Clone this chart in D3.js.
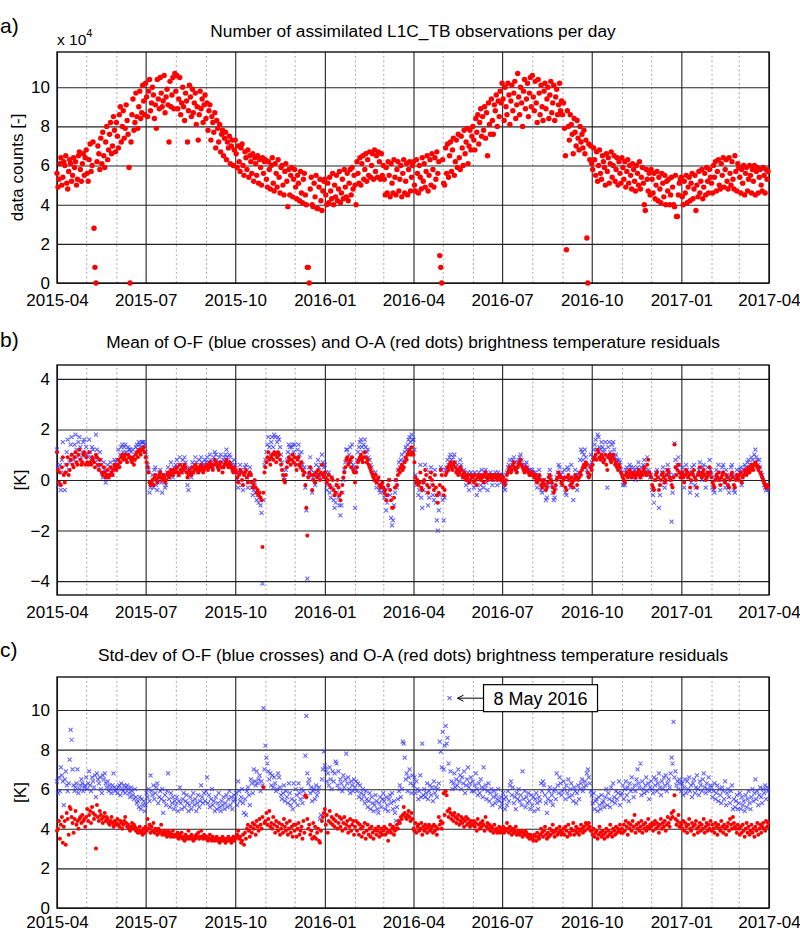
<!DOCTYPE html>
<html><head><meta charset="utf-8">
<script src="https://cdn.jsdelivr.net/npm/d3@7"></script>
<style>
body{margin:0;background:#fff;}
text{font-family:"Liberation Sans",Arial,Helvetica,sans-serif;fill:#000;}
</style></head><body>
<svg id="chart" width="800" height="933"></svg>
<script>
// ---------------- DATA ----------------
const startMonth = "2015-04";
const endMonth = "2017-04";
const quarterLabels = ["2015-04","2015-07","2015-10","2016-01","2016-04","2016-07","2016-10","2017-01","2017-04"];
const countTicks = [0,2,4,6,8,10];
const meanTicks = [-4,-2,0,2,4];
const stdTicks = [0,2,4,6,8,10];
const titles = [
  "Number of assimilated L1C_TB observations per day",
  "Mean of O-F (blue crosses) and O-A (red dots) brightness temperature residuals",
  "Std-dev of O-F (blue crosses) and O-A (red dots) brightness temperature residuals"
];
const panelLetters = ["a)","b)","c)"];
const yLabels = ["data counts [-]","[K]","[K]"];
const annotation = {date:"2016-05-08", value:10.6, label:"8 May 2016"};

// daily values, one inner array per month starting 2015-04 (units: x 10^4)
const countsPerDay = [
[5.6,4.9,5.3,6.1,6.4,5.0,5.4,6.2,6.0,6.5,5.1,4.8,5.7,6.3,6.1,5.2,5.5,6.4,5.9,6.2,5.0,5.3,6.5,6.7,5.8,5.2,6.1,6.6,5.5,6.4],
[6.8,5.6,5.2,6.3,7.1,5.7,6.0,7.2,2.8,0.8,0,6.2,7.0,6.6,5.8,7.4,6.1,7.7,6.5,5.9,7.2,8.0,6.3,6.8,7.6,8.2,6.6,7.0,8.5,7.8,6.7],
[8.2,7.5,6.9,8.6,9.0,7.2,8.0,8.8,7.4,7.9,9.1,8.3,7.6,5.9,0,7.2,8.6,9.4,7.8,8.2,9.7,8.5,7.9,9.0,9.8,8.4,8.7,10.1,9.3,8.6],
[10.2,9.5,8.5,9.8,10.4,8.8,9.2,10.0,9.6,8.4,9.1,7.9,10.4,9.4,8.9,10.5,9.7,9.0,9.3,10.6,8.7,9.5,9.9,9.1,7.2,10.3,9.0,9.6,10.5,8.9,10.7],
[9.8,10.6,8.9,9.4,10.5,8.6,9.2,10.0,9.0,8.3,9.7,9.3,7.2,8.8,10.1,9.5,8.5,9.9,8.7,9.2,9.7,8.1,9.0,7.3,8.6,9.8,8.9,9.4,8.2,9.1,9.6],
[8.4,9.2,7.8,8.8,9.1,7.3,8.5,8.2,7.7,8.7,6.9,8.3,7.9,7.2,8.1,6.7,7.6,7.8,6.5,7.4,7.7,6.3,7.2,6.9,7.5,6.1,7.0,7.3,6.0,6.8],
[7.3,6.6,5.9,7.0,6.2,5.7,6.9,7.1,6.0,5.5,6.7,6.4,5.8,6.8,5.4,6.5,6.2,5.6,6.6,5.2,6.4,6.1,5.5,6.5,5.1,6.3,5.9,5.0,6.4,5.6,6.2],
[6.3,5.3,4.9,6.2,5.8,4.8,6.0,6.4,5.1,4.7,6.1,5.6,4.9,6.3,5.4,4.6,5.9,6.0,5.0,4.5,5.7,6.1,5.2,3.9,5.8,4.5,5.5,5.9,4.4,5.3],
[5.8,4.9,4.3,5.5,5.1,4.2,5.7,4.6,4.1,5.3,5.6,4.5,4.0,0.8,0.8,0,4.8,5.4,4.0,3.9,5.1,4.4,5.5,3.8,3.8,4.9,5.3,4.2,3.7,4.7,5.2],
[5.3,4.5,4.0,5.1,4.1,5.4,4.7,4.3,5.6,4.0,5.0,4.4,5.5,4.2,4.8,5.7,4.1,4.6,5.3,4.3,5.8,4.9,4.4,5.6,4.2,5.1,5.8,4.5,5.9,4.8,5.5],
[5.0,4.0,6.2,5.6,5.1,6.4,5.0,6.1,6.5,5.3,5.8,6.6,5.2,6.3,5.5,6.7,5.4,6.0,6.6,5.3,6.8,5.7,6.5,5.4,6.7,6.2,5.3,6.6,5.5],
[6.0,5.3,4.5,5.9,4.6,6.2,5.5,4.4,6.1,5.1,4.6,6.3,5.4,4.5,5.8,6.2,4.7,5.3,6.0,4.4,5.6,6.3,4.6,5.2,6.1,4.5,5.8,6.2,4.7,5.4,6.0],
[6.2,5.0,4.7,6.3,5.6,4.6,6.0,5.4,4.8,6.4,5.2,6.1,4.9,5.7,6.5,4.7,5.5,6.3,5.0,6.6,5.8,4.9,6.4,5.3,6.7,5.6,6.2,1.4,0.8,0],
[6.3,5.1,5.0,6.9,5.6,7.1,5.4,6.5,7.2,5.7,6.8,7.4,5.5,6.2,7.3,5.9,7.6,6.4,5.8,7.5,6.9,6.0,7.8,6.6,7.2,7.9,6.1,7.0,7.8,6.8,7.5],
[8.0,7.3,6.8,8.4,7.7,8.6,7.1,8.2,8.9,7.5,8.5,7.8,9.0,7.4,8.7,6.5,9.2,8.1,7.6,9.4,8.3,7.6,9.1,8.8,9.6,8.0,9.3,8.5,9.8,9.2],
[10.2,9.4,8.3,10.0,9.0,8.6,10.2,9.6,8.1,9.3,10.1,8.8,9.7,10.3,8.4,9.1,10.7,9.5,8.6,10.0,9.2,8.0,9.8,10.4,8.9,9.4,10.2,8.5,9.7,10.5,9.0],
[10.6,9.5,8.8,10.3,9.2,8.2,10.4,9.7,8.6,10.1,9.0,8.3,9.8,10.2,8.9,9.4,10.0,8.4,9.6,10.3,8.7,9.2,10.1,8.3,9.5,9.9,8.6,9.1,10.2,8.8,9.3],
[8.6,9.2,7.9,6.5,1.7,8.8,8.0,7.3,8.6,8.1,7.6,6.6,8.4,7.7,7.0,8.3,7.4,6.8,8.0,7.2,7.6,6.9,7.8,6.6,7.3,2.3,0,7.1,6.3,7.0],
[6.1,5.8,6.9,6.3,5.5,6.7,5.2,6.0,6.8,5.6,5.3,6.5,6.2,5.9,5.0,6.6,5.7,6.4,5.1,6.1,6.7,5.4,6.0,6.5,5.2,5.8,6.4,5.0,6.2,5.6,5.1],
[6.4,5.9,5.3,6.2,4.9,5.7,6.3,5.1,6.0,5.5,4.8,6.1,5.8,5.2,4.7,6.0,5.6,5.0,6.2,4.8,5.4,5.9,5.1,4.0,3.7,5.8,5.3,4.7,5.6,4.5],
[5.8,5.3,4.6,5.6,4.3,5.0,5.7,4.2,5.4,4.8,4.1,5.6,5.1,4.4,5.5,4.0,5.2,4.7,5.3,4.0,4.5,5.4,4.9,4.0,3.9,5.5,3.4,3.4,4.5,5.1,5.3],
[5.4,4.4,4.0,5.2,4.6,5.5,4.1,4.9,5.4,4.2,5.1,5.6,4.3,4.8,5.5,3.7,5.0,4.4,5.7,4.6,5.2,5.8,4.3,4.9,5.6,4.5,5.9,5.2,4.6,5.8,5.4],
[5.1,4.6,6.0,5.4,6.2,4.7,5.7,6.3,5.0,4.8,6.1,5.5,6.4,4.9,5.8,6.3,5.2,4.8,6.4,5.6,5.0,6.2,5.3,4.8,6.5,5.7,4.7,6.1],
[5.9,5.4,4.6,5.8,5.1,6.0,4.5,5.6,5.9,4.7,5.3,6.0,5.5,4.6,5.8,5.2,6.0,4.5,5.7,5.9,4.6,5.4,5.8,5.0,4.7,5.9,5.5,4.6,5.8,5.3,5.7]
];

// mean O-F (blue crosses), K
const meanOF = [
[1.2,0.5,-0.2,0.6,-0.4,0.8,1.5,0.3,-0.4,0.6,1.1,1.6,0.4,0.7,1.4,1.7,1.0,0.8,1.4,1.8,1.2,0.9,1.5,1.7,1.3,0.9,1.1,1.5,1.6,1.0],
[1.3,1.0,0.9,1.6,1.1,0.8,1.3,1.2,0.9,0.7,1.8,1.2,0.8,0.5,1.1,0.8,0.3,0.1,0.7,0.4,-0.1,0.2,0.6,0.1,0.2,0.7,0.4,0.2,0.5,0.8,0.7],
[0.5,0.8,1.2,0.6,1.0,1.3,1.4,1.1,1.3,1.4,1.1,1.0,1.3,1.2,1.2,1.1,0.9,1.2,0.8,1.0,1.3,1.4,1.2,1.5,1.4,1.3,1.5,1.5,1.5,1.4],
[1.1,0.9,0.6,0.4,-0.5,-0.3,-0.1,0.2,-0.3,0.4,0.5,-0.2,-0.4,0.0,0.3,0.4,-0.1,-0.5,0.2,0.0,-0.3,-0.2,0.3,0.5,0.1,0.2,0.7,0.4,0.1,0.5,0.4],
[0.6,0.8,0.5,0.2,0.9,0.6,0.3,0.8,0.6,0.9,0.7,0.4,-0.2,-0.4,0.5,0.4,0.1,0.7,0.3,0.6,0.9,0.7,0.5,0.3,0.8,0.6,0.9,0.7,0.4,0.6,0.8],
[0.7,0.9,0.6,0.7,1.0,0.8,0.7,0.5,0.9,1.1,1.0,0.8,0.7,0.6,0.9,1.0,0.7,0.5,0.8,0.9,1.0,1.2,0.9,0.7,1.0,0.9,0.7,0.6,0.4,0.8],
[0.6,0.4,0.0,-0.3,0.3,0.6,0.4,-0.2,-0.4,0.3,0.5,0.6,0.1,-0.3,0.3,0.5,0.2,-0.3,-0.6,-0.4,-0.1,-0.5,-0.8,-0.6,-0.9,-0.7,-1.0,-1.3,-4.1,-0.8,0.6],
[0.8,1.1,1.4,1.7,1.3,1.0,1.5,1.7,1.3,1.8,1.7,1.1,1.5,1.7,1.6,1.3,1.0,0.7,0.4,0.1,0.0,0.4,0.8,1.1,1.4,1.3,1.0,1.3,1.4,1.1],
[1.4,0.9,0.6,1.2,1.4,1.0,0.7,1.1,0.6,0.4,0.5,-0.3,-1.2,-3.9,0.2,0.5,0.9,0.4,-0.5,0.1,0.3,-0.2,0.6,0.2,0.8,0.5,0.1,0.6,1.0,0.7,0.5],
[0.6,0.3,-0.4,-0.2,0.3,-0.5,-0.7,0.1,-0.3,-0.8,-1.1,-0.9,-0.5,-0.2,-0.7,-1.0,-1.4,-1.0,-0.5,0.0,0.4,0.7,1.2,1.2,0.8,1.0,1.3,0.7,1.4,0.6,0.5],
[-1.1,0.4,0.8,1.1,1.3,1.5,1.6,1.3,1.1,1.4,1.6,1.3,1.1,1.2,0.9,0.8,0.6,0.5,0.3,0.2,0.0,0.3,-0.3,-0.1,0.1,-0.4,-0.5,-0.3,-0.2],
[-0.4,-0.7,-0.6,-1.2,-0.9,-0.3,0.0,-0.6,-1.5,-1.8,-1.6,-1.0,-0.5,0.0,-0.3,0.4,0.7,0.5,0.8,1.0,0.6,0.8,1.1,1.3,1.2,1.4,1.6,1.7,1.5,1.8,1.6],
[1.6,1.2,0.2,-0.2,-0.1,-0.6,-0.4,0.6,-0.7,-1.1,-0.4,-0.1,0.6,0.4,-0.5,-1.0,-0.7,0.3,0.5,-0.2,-0.6,-0.8,0.4,-0.9,-1.6,-2.0,-1.2,-0.6,0.5,0.4],
[-0.8,-1.6,-0.7,0.4,0.5,0.8,0.6,0.9,1.0,0.8,0.6,0.9,1.0,0.7,0.4,0.6,0.3,0.4,0.8,0.6,0.2,0.1,0.4,0.2,-0.2,0.0,0.3,-0.4,-0.1,0.3,0.1],
[0.2,-0.3,0.3,-0.2,-0.6,0.1,0.3,-0.4,-0.2,0.4,0.2,-0.3,0.3,0.4,-0.1,-0.4,0.2,0.1,0.3,0.0,-0.2,0.2,0.1,0.3,0.0,-0.2,0.3,0.1,0.2,-0.1],
[0.1,0.2,-0.3,-0.4,-0.1,0.3,0.5,0.6,0.8,0.4,0.5,0.8,0.9,0.7,0.5,0.4,0.7,0.8,0.9,1.0,0.8,0.6,0.5,0.4,0.6,0.7,0.5,0.4,0.3,0.4,0.3],
[0.4,0.3,0.1,0.3,-0.1,-0.3,0.2,0.4,0.1,-0.4,-0.5,-0.2,0.0,-0.4,-0.8,-0.7,-0.2,0.2,0.4,0.1,-0.2,-0.5,-0.8,-0.7,-0.3,0.1,0.3,0.6,0.5,0.2,-0.2],
[0.3,0.1,0.4,-0.5,-0.6,0.5,0.4,0.0,-0.3,0.6,-0.2,-0.8,0.1,0.4,0.2,-0.4,0.2,0.3,0.8,1.2,1.1,0.8,1.0,1.2,0.9,0.4,0.2,0.2,0.6,1.0],
[0.7,0.9,1.2,1.4,1.6,1.2,1.8,1.7,1.3,1.2,1.5,1.3,1.1,1.2,1.5,0.9,-0.3,1.3,1.5,1.1,1.0,1.4,1.5,1.2,0.9,1.0,0.8,0.6,0.8,0.7,0.4],
[0.3,-0.2,-0.1,-0.2,0.4,0.5,0.2,0.4,0.6,0.5,0.1,0.3,0.5,0.4,0.0,0.3,0.5,0.7,0.4,0.1,0.5,0.3,0.6,0.8,0.4,0.2,0.9,0.4,0.3,0.1],
[0.2,-0.4,-0.6,-0.9,0.0,0.3,0.4,0.1,-1.1,-0.6,-0.2,0.3,0.5,0.2,-0.3,-0.1,0.4,0.6,0.4,0.2,0.0,-1.65,-0.5,0.2,1.45,0.8,0.5,0.6,0.9,0.6,0.3],
[0.3,0.5,0.2,-0.3,0.4,0.6,0.4,0.1,0.3,-0.5,-0.1,0.5,0.3,0.6,-0.2,-0.3,-0.6,0.2,0.4,0.7,0.3,0.0,0.5,0.6,0.2,-0.3,0.1,0.5,0.3,0.8,0.4],
[0.2,-0.3,-0.4,-0.5,0.1,0.4,0.2,0.6,0.0,-0.4,0.3,0.5,0.6,-0.1,-0.3,0.4,0.2,-0.3,-0.5,0.1,0.5,0.6,0.2,-0.4,-0.5,0.1,0.4,0.2],
[0.1,0.4,0.5,-0.2,0.3,0.4,0.6,0.5,0.3,0.7,0.8,0.5,0.6,0.9,0.8,0.6,1.0,1.2,0.9,0.8,0.6,0.8,0.5,0.3,0.2,0.0,-0.2,-0.3,-0.4,-0.3,-0.4]
];

// mean O-A (red dots), K
const meanOA = [
[1.1,0.4,-0.1,0.3,-0.2,0.5,0.9,0.2,-0.1,0.3,0.6,0.9,0.2,0.4,0.8,1.0,0.6,0.5,0.9,1.1,0.7,0.6,1.0,1.2,0.8,0.6,0.7,1.0,1.1,0.6],
[0.9,0.7,0.6,1.1,0.7,0.6,0.9,0.8,0.7,0.5,1.0,0.9,0.6,0.4,0.8,0.6,0.3,0.2,0.5,0.3,0.1,0.2,0.4,0.1,0.2,0.5,0.3,0.2,0.4,0.6,0.5],
[0.4,0.6,0.8,0.5,0.7,0.9,1.0,0.8,0.9,1.0,0.8,0.7,1.0,0.9,0.9,0.8,0.7,0.9,0.6,0.8,1.0,1.1,0.9,1.2,1.1,1.0,1.2,1.2,1.3,1.1],
[0.9,0.7,0.5,0.3,-0.1,-0.2,-0.1,0.0,-0.2,0.1,0.2,0.0,-0.1,0.1,0.2,0.3,0.1,0.0,0.2,0.1,-0.1,0.0,0.2,0.3,0.1,0.2,0.4,0.3,0.2,0.4,0.3],
[0.4,0.5,0.3,0.2,0.6,0.4,0.3,0.5,0.4,0.6,0.5,0.3,0.1,0.2,0.4,0.3,0.2,0.5,0.3,0.4,0.6,0.5,0.4,0.3,0.5,0.4,0.6,0.5,0.3,0.4,0.5],
[0.5,0.6,0.4,0.5,0.7,0.6,0.5,0.4,0.6,0.8,0.7,0.6,0.5,0.4,0.6,0.7,0.5,0.3,0.5,0.6,0.7,0.8,0.6,0.5,0.7,0.6,0.5,0.4,0.3,0.5],
[0.4,0.3,0.1,-0.1,0.2,0.4,0.3,0.0,-0.2,0.2,0.3,0.4,0.1,-0.1,0.2,0.3,0.2,-0.1,-0.3,-0.2,0.0,-0.3,-0.5,-0.4,-0.6,-0.5,-0.7,-0.8,-2.65,-0.5,0.3],
[0.5,0.7,0.9,1.1,0.8,0.6,0.9,1.0,0.8,1.1,1.0,0.7,0.9,1.1,1.0,0.8,0.6,0.4,0.2,0.0,-0.1,0.2,0.5,0.7,0.9,0.8,0.6,0.8,1.0,0.7],
[0.9,0.6,0.4,0.8,0.9,0.6,0.5,0.7,0.4,0.2,0.3,-0.2,-1.1,-2.2,0.1,0.3,0.5,0.2,-0.4,0.0,0.2,-0.1,0.3,0.1,0.4,0.2,0.0,0.3,0.6,0.2,0.1],
[0.3,0.1,-0.1,0.0,0.2,-0.2,-0.3,0.1,0.0,-0.4,-0.6,-0.5,-0.2,0.0,-0.3,-0.6,-0.8,-0.5,-0.2,0.1,0.3,0.5,0.8,0.9,0.6,0.7,0.8,0.5,0.9,0.4,0.3],
[-0.1,0.3,0.5,0.7,0.8,0.9,1.0,0.8,0.7,0.9,1.1,0.9,0.7,0.8,0.6,0.5,0.4,0.3,0.2,0.1,0.0,0.2,-0.1,0.0,0.1,-0.2,-0.3,-0.2,-0.1],
[-0.3,-0.5,-0.4,-0.8,-0.6,-0.2,0.0,-0.4,-0.8,-1.1,-1.1,-0.7,-0.3,0.0,-0.2,0.2,0.4,0.3,0.5,0.6,0.4,0.5,0.7,0.9,0.8,1.0,1.1,1.2,1.0,1.3,1.1],
[1.0,0.7,0.1,-0.1,0.0,-0.2,-0.1,0.3,-0.3,-0.4,-0.1,0.0,0.4,0.2,-0.2,-0.5,-0.3,0.1,0.3,0.0,-0.2,-0.4,0.2,-0.3,-0.6,-0.9,-0.5,-0.2,0.4,0.2],
[-0.3,-0.6,-0.4,0.2,0.3,0.5,0.4,0.6,0.7,0.5,0.4,0.6,0.7,0.5,0.3,0.4,0.2,0.3,0.5,0.4,0.2,0.1,0.3,0.2,0.0,0.1,0.2,-0.1,0.0,0.2,0.1],
[0.1,-0.1,0.2,0.0,-0.2,0.1,0.2,0.1,0.0,0.2,0.1,-0.1,0.2,0.3,0.1,0.0,0.2,0.1,0.2,0.1,0.0,0.2,0.1,0.2,0.1,0.0,0.2,0.1,0.2,0.0],
[0.0,0.1,-0.1,-0.2,0.0,0.2,0.3,0.4,0.5,0.3,0.4,0.6,0.7,0.5,0.4,0.3,0.5,0.6,0.7,0.8,0.6,0.5,0.4,0.3,0.4,0.5,0.4,0.3,0.2,0.3,0.2],
[0.3,0.2,0.1,0.2,0.0,-0.1,0.1,0.2,0.0,-0.2,-0.3,-0.1,0.0,-0.2,-0.4,-0.3,-0.1,0.1,0.2,0.0,-0.1,-0.3,-0.5,-0.4,-0.2,0.0,0.1,0.3,0.2,0.1,-0.1],
[-0.2,0.0,0.1,-0.3,-0.4,0.1,0.2,0.0,-0.2,0.1,-0.1,-0.3,0.0,0.2,0.1,-0.2,0.0,0.1,0.3,0.2,0.4,0.5,0.6,0.5,0.7,0.6,0.3,0.1,0.2,0.5],
[0.4,0.6,0.8,0.9,1.0,0.8,1.2,1.1,0.9,0.8,1.0,0.9,0.7,0.8,1.0,0.6,0.4,0.9,1.0,0.8,0.7,0.9,1.0,0.8,0.6,0.7,0.5,0.4,0.6,0.5,0.3],
[0.2,0.1,0.0,-0.1,0.2,0.3,0.1,0.2,0.4,0.3,0.1,0.2,0.3,0.2,0.1,0.2,0.3,0.4,0.2,0.1,0.3,0.2,0.4,0.5,0.3,0.2,0.6,0.8,0.3,0.2],
[0.1,-0.2,-0.3,-0.4,0.0,0.2,0.3,0.1,-0.4,-0.2,0.0,0.2,0.3,0.1,-0.1,0.0,0.2,0.4,0.3,0.1,0.0,-0.2,-0.3,0.1,1.4,0.5,0.2,0.4,0.6,0.3,0.1],
[0.2,0.3,0.1,-0.1,0.2,0.4,0.3,0.1,0.2,-0.3,0.0,0.3,0.2,0.4,0.1,0.0,-0.3,0.2,0.3,0.5,0.2,0.1,0.3,0.4,0.2,0.0,0.1,0.3,0.2,0.5,0.3],
[0.1,-0.1,-0.2,-0.3,0.0,0.2,0.1,0.3,0.0,-0.2,0.1,0.2,0.3,0.0,-0.1,0.2,0.1,-0.2,-0.3,0.0,0.2,0.3,0.1,-0.2,-0.3,0.0,0.2,0.1],
[0.0,0.2,0.3,-0.1,0.1,0.2,0.4,0.3,0.2,0.4,0.5,0.3,0.4,0.6,0.5,0.4,0.6,0.7,0.6,0.5,0.4,0.5,0.3,0.2,0.1,0.0,-0.1,-0.2,-0.3,-0.2,-0.3]
];

// std-dev O-F (blue crosses), K
const stdOF = [
[6.4,5.8,6.6,5.9,7.1,6.7,6.4,5.2,6.5,6.9,6.2,5.9,6.3,7.5,9.0,8.5,7.0,6.2,5.9,6.1,6.3,7.0,5.8,6.0,6.2,6.5,6.3,5.9,6.1,6.2],
[6.6,6.0,6.3,6.9,6.2,5.9,6.6,6.4,6.1,6.7,5.6,6.8,6.5,6.3,6.6,6.0,5.8,6.7,6.5,6.8,6.3,6.1,6.4,5.9,6.2,6.0,5.8,6.2,6.8,6.1,5.9],
[6.0,5.8,6.1,6.2,5.7,6.3,6.0,5.9,6.2,5.8,6.1,6.2,6.0,5.8,5.6,6.1,5.9,5.7,5.5,6.0,5.6,5.3,5.4,5.1,5.6,5.0,5.5,5.2,5.4,4.9],
[5.2,5.8,5.6,6.0,5.4,6.7,5.9,5.7,6.2,5.5,5.8,6.1,6.3,5.3,5.6,5.9,5.5,6.0,4.8,5.4,5.7,5.2,5.9,6.8,5.5,5.1,5.8,5.3,5.6,5.0,5.4],
[5.2,5.6,4.9,5.4,6.1,5.3,5.0,5.5,5.8,5.1,5.4,5.7,5.3,4.9,5.2,5.6,5.0,5.4,5.8,5.2,5.5,4.9,5.3,5.7,5.1,5.4,6.2,5.6,5.3,5.8,5.4],
[5.9,6.6,5.3,5.7,5.1,5.5,6.0,5.2,5.4,4.9,5.6,5.0,5.3,5.8,5.1,4.9,5.4,5.2,5.6,5.0,5.3,5.7,5.1,5.5,5.9,5.2,5.6,5.0,5.4,5.7],
[5.5,5.8,5.2,6.4,5.9,5.4,5.6,6.0,5.3,4.8,5.5,4.7,5.9,6.1,5.7,5.2,6.5,6.3,5.8,7.0,6.4,6.2,6.9,6.3,6.5,6.7,5.9,6.4,6.2,10.1,7.0],
[8.2,7.6,7.3,6.9,6.5,6.8,6.2,6.7,6.1,6.6,6.3,5.9,6.0,6.8,6.6,6.1,5.7,5.5,5.8,6.2,5.4,5.9,5.6,5.3,6.3,5.8,5.2,5.5,5.0,6.3],
[5.4,6.0,5.7,5.2,6.3,5.8,5.5,6.0,5.3,5.9,5.6,7.7,9.7,6.8,6.3,6.5,5.8,6.1,5.4,5.9,6.0,5.5,6.2,5.7,5.9,6.1,4.5,4.7,6.5,7.0,7.9],
[7.2,7.0,6.4,6.8,6.2,7.1,6.5,6.0,6.9,6.4,6.8,7.4,7.3,6.2,6.9,6.0,6.5,6.3,5.9,6.7,6.1,6.5,7.8,6.3,6.6,6.0,5.8,6.4,6.2,5.9,6.5],
[6.1,6.4,5.9,6.3,5.6,6.2,5.8,5.5,6.0,5.7,5.3,5.9,5.5,5.1,5.4,5.8,5.0,5.6,5.3,4.9,5.2,5.7,5.4,5.0,4.8,5.3,5.6,5.1,5.5],
[5.8,5.4,5.0,5.6,5.2,4.9,5.5,5.7,5.3,5.8,5.0,5.4,4.8,4.4,5.1,5.5,5.9,6.2,5.6,6.0,8.4,8.3,7.6,6.5,6.8,5.9,6.6,7.0,6.3,5.8,6.7],
[6.2,6.6,5.8,6.4,6.0,5.5,5.9,6.7,5.6,8.3,5.7,6.0,5.6,5.8,6.3,5.5,5.9,6.2,5.7,6.1,5.4,6.4,5.8,6.1,5.6,6.0,6.3,8.4,7.9,7.1],
[8.9,7.0,8.2,9.2,8.3,8.6,7.3,10.6,6.9,6.4,6.0,6.3,6.8,6.1,6.5,6.2,7.0,6.4,6.7,6.0,6.6,6.3,6.9,5.8,6.2,6.5,7.1,6.1,6.3,6.6,5.9],
[6.4,5.9,6.2,6.8,6.0,5.7,6.3,5.8,6.5,6.1,5.6,7.1,6.0,6.2,5.5,5.9,6.3,5.4,5.8,6.0,5.2,5.6,5.9,5.3,5.7,5.5,6.0,5.4,5.1,5.6],
[5.3,5.8,5.5,5.0,5.6,5.2,5.9,5.4,6.2,6.4,5.7,6.1,5.3,5.6,5.0,5.8,5.5,6.0,5.4,5.7,5.2,6.9,5.5,5.9,5.1,5.6,5.3,5.8,5.4,5.0,5.7],
[5.2,5.6,4.9,5.5,5.8,5.3,5.0,5.6,5.4,6.3,5.9,6.4,6.2,5.7,5.3,4.8,5.5,5.9,6.1,5.4,5.7,5.2,5.9,6.0,5.5,6.8,6.2,5.8,6.6,6.3,5.7],
[5.9,6.4,6.0,5.5,6.2,5.8,6.5,5.6,6.0,6.3,5.7,5.4,6.1,5.9,5.3,5.8,6.2,5.5,6.0,6.3,6.5,5.9,6.1,6.4,6.2,6.8,7.0,6.6,6.3,5.9],
[5.7,5.3,5.8,5.0,5.4,5.5,4.9,5.6,5.2,5.0,5.7,5.3,5.4,5.1,5.6,6.0,5.2,5.8,5.5,5.1,6.1,5.4,6.3,5.6,5.3,5.9,5.5,5.8,6.4,5.2,5.7],
[5.8,6.2,5.5,6.0,6.4,5.7,6.1,5.4,6.3,5.9,6.6,6.0,5.6,6.2,5.9,6.5,7.0,6.3,6.1,7.3,5.7,6.4,6.0,5.8,6.2,6.6,5.9,6.3,5.5,6.1],
[6.4,6.0,5.8,6.6,6.2,6.5,5.9,6.3,6.8,6.1,5.7,6.4,6.0,6.6,6.2,6.7,5.9,6.3,6.5,6.1,6.8,7.6,7.3,9.4,6.6,6.9,6.2,6.4,6.0,6.5,6.3],
[5.9,6.3,5.7,6.1,6.5,5.8,6.4,6.0,6.6,5.9,6.2,5.6,6.3,6.5,5.8,6.1,6.7,6.0,5.7,6.4,6.2,5.9,6.5,6.8,6.1,5.8,6.3,6.0,6.6,5.9,6.2],
[6.1,5.6,5.9,6.3,5.5,5.8,6.2,5.4,6.0,5.7,5.3,6.1,5.9,5.5,6.4,5.2,5.8,6.0,5.6,5.3,5.9,6.2,5.0,5.5,5.1,5.4,5.7,5.0],
[5.3,5.8,5.0,5.6,5.2,5.4,4.9,5.7,5.1,5.5,5.9,5.3,5.0,5.6,6.0,5.4,5.8,6.5,5.5,5.9,5.2,5.7,6.1,5.6,5.3,6.0,5.8,6.2,5.5,6.1,5.9]
];

// std-dev O-A (red dots), K
const stdOA = [
[3.9,4.0,4.4,3.5,4.2,4.6,3.3,4.1,4.4,3.2,4.8,4.5,3.7,5.1,5.0,4.6,4.3,3.8,4.5,4.9,4.2,4.4,4.0,4.5,4.6,4.3,4.7,4.4,4.5,4.1],
[4.6,5.0,4.4,4.7,4.9,4.3,5.1,4.8,4.5,4.7,3.0,5.2,4.6,4.4,4.9,4.7,4.5,4.3,4.6,4.8,4.4,4.6,4.5,4.3,4.2,4.4,4.6,4.3,4.1,4.4,4.2],
[4.3,4.5,4.2,4.1,4.4,4.3,4.0,4.2,4.4,4.6,4.3,4.1,4.2,4.0,3.9,4.1,4.3,4.0,4.2,4.1,3.9,4.0,3.8,3.9,4.1,3.8,3.9,3.7,4.0,3.8],
[4.1,3.9,4.5,4.0,4.2,3.8,4.1,3.9,4.3,3.8,4.0,3.9,3.7,4.0,3.8,3.9,4.2,3.7,3.8,3.9,3.7,3.8,3.6,3.9,3.7,3.8,3.6,3.7,3.9,3.6,3.7],
[3.7,3.6,3.8,3.5,3.7,3.6,3.8,3.5,3.6,3.4,3.7,3.5,3.6,3.9,3.5,3.6,3.7,3.5,3.4,3.6,3.5,3.7,3.6,3.8,3.5,3.6,3.9,3.6,3.5,3.7,3.6],
[3.5,3.6,3.4,3.5,3.7,3.5,3.4,3.6,3.5,3.4,3.5,3.6,3.4,3.5,3.3,3.5,3.4,3.6,3.5,3.4,3.3,3.5,3.4,3.6,3.5,3.4,3.3,3.5,3.6,3.4],
[3.5,3.6,3.7,3.9,3.5,3.6,3.3,3.4,3.7,3.2,3.8,3.5,4.0,4.2,3.9,3.6,4.1,3.8,4.3,4.0,4.2,3.7,4.4,4.1,3.9,4.5,4.2,4.0,4.6,6.1,4.3],
[4.4,4.8,4.2,4.5,4.9,4.1,4.3,4.0,4.6,4.2,3.8,4.4,4.1,3.9,4.3,3.7,4.0,4.2,3.8,4.5,4.1,3.9,4.3,3.7,4.0,4.4,3.8,4.1,3.6,4.2],
[3.9,4.2,3.6,4.0,4.3,3.7,3.9,4.1,3.5,4.4,3.8,5.7,5.6,4.5,4.0,4.2,3.7,3.9,3.5,4.3,3.6,4.1,3.5,3.8,4.0,3.4,3.3,3.9,4.4,4.6,4.8],
[5.0,4.2,4.7,3.8,4.4,4.9,4.3,4.6,4.2,4.5,4.1,4.4,4.7,4.0,4.3,4.6,4.1,4.5,3.9,4.3,4.6,4.0,4.2,4.4,3.8,4.1,4.5,3.9,4.2,4.4,3.7],
[4.1,4.4,3.9,4.3,3.7,4.2,4.0,3.6,4.1,3.8,4.3,3.5,3.9,4.2,3.7,4.0,3.6,4.1,3.8,3.5,3.9,4.0,3.7,3.9,4.1,3.6,3.8,4.0,3.7],
[3.9,4.1,3.7,4.0,3.8,3.4,3.9,4.2,3.8,4.0,4.1,3.7,3.9,4.0,4.2,4.0,4.4,4.3,4.6,4.5,4.7,5.1,4.8,4.6,4.5,4.7,4.9,4.6,4.4,4.8,4.5],
[4.0,3.9,4.3,3.8,4.1,4.2,3.9,4.0,4.3,3.7,4.1,3.9,4.2,4.0,3.8,4.1,4.2,3.9,4.0,4.1,3.8,4.2,3.9,4.1,3.7,4.0,4.6,4.2,4.4,4.0],
[4.3,5.8,4.7,5.9,5.7,4.9,4.6,5.0,4.8,4.5,4.7,4.4,4.8,4.6,4.3,4.5,4.7,4.2,4.4,4.6,4.3,4.5,4.1,4.4,4.6,4.2,4.5,4.3,4.1,4.4,4.2],
[4.2,4.4,4.1,4.3,3.9,4.5,4.2,4.0,4.3,4.1,4.4,4.2,3.9,4.6,4.1,4.3,4.0,4.2,3.9,4.1,4.0,3.8,4.2,3.9,4.0,3.8,3.9,4.1,3.8,4.0],
[3.9,4.1,3.8,4.0,3.9,4.3,4.0,3.8,4.1,3.9,3.7,4.0,3.8,3.9,4.1,3.7,3.8,3.9,3.7,3.8,3.9,3.6,3.8,3.7,3.9,3.8,3.6,3.7,3.5,3.7,3.6],
[3.5,3.4,3.7,3.6,3.4,3.8,3.6,3.5,3.7,4.0,3.8,3.6,3.9,4.1,3.7,3.5,3.8,3.6,4.0,3.7,3.9,4.2,3.8,3.6,3.9,4.0,3.7,3.8,4.1,3.9,3.7],
[3.8,4.0,3.7,4.1,3.9,3.6,4.2,3.8,3.7,4.0,3.9,4.3,3.7,3.9,4.1,3.8,4.0,3.7,3.9,4.2,4.0,3.8,4.1,3.9,4.3,4.2,4.0,4.3,4.1,3.9],
[3.9,3.7,4.0,3.6,3.8,3.9,3.5,3.7,4.1,3.8,3.6,3.9,3.7,3.5,3.8,4.0,3.6,3.9,3.7,4.2,3.8,3.6,4.0,3.9,3.7,4.1,3.8,4.0,3.9,4.2,3.8],
[4.0,3.8,4.2,3.9,4.4,4.1,3.7,4.3,4.0,4.2,3.9,4.4,4.1,4.7,3.8,4.2,4.0,4.3,3.9,4.1,4.4,3.8,4.2,4.0,4.3,3.9,4.1,4.5,4.0,4.2],
[4.1,4.3,3.9,4.2,4.4,4.0,4.3,4.1,3.8,4.2,4.5,4.0,4.3,4.1,4.4,3.9,4.2,4.6,4.3,4.1,4.5,4.8,4.6,4.9,5.7,4.5,4.2,4.4,4.7,4.1,4.3],
[4.2,4.0,4.4,3.9,4.3,4.1,3.8,4.2,4.5,4.0,3.9,4.3,4.1,3.7,4.2,4.4,4.0,3.8,4.1,4.3,3.9,4.2,4.0,4.5,3.8,4.1,4.3,3.9,4.2,4.0,4.4],
[3.9,4.2,4.0,3.8,4.3,4.1,3.7,4.2,4.0,3.9,4.4,4.1,3.8,4.2,4.0,3.7,4.1,4.3,3.9,4.5,4.2,4.0,4.6,4.3,4.1,4.0,3.8,4.2],
[4.0,3.7,4.1,3.8,4.2,3.9,3.6,4.0,4.3,3.8,4.1,3.7,3.9,4.2,3.8,4.0,3.6,4.1,3.9,4.3,3.7,4.0,4.2,3.8,4.1,4.3,4.0,3.9,4.4,4.1,4.3]
];

// ---------------- DRAWING ----------------
const svg = d3.select("#chart");
const parseMonth = d3.timeParse("%Y-%m");
const parseDay = d3.timeParse("%Y-%m-%d");
const t0 = parseMonth(startMonth), t1 = parseMonth(endMonth);
const L = 57, R = 769;
const x = d3.scaleTime().domain([t0, t1]).range([L, R]);

function toPoints(monthly){
  return monthly.flatMap((arr, m) => {
    const ms = d3.timeMonth.offset(t0, m), next = d3.timeMonth.offset(t0, m+1);
    return arr.map((v, j) => ({d: d3.timeDay.offset(ms, j), v}))
              .filter(p => p.v != null && p.d < next);
  });
}

const quarters = quarterLabels.map(parseMonth);
const allMonths = d3.timeMonth.range(t0, t1).concat([t1]);
const minorMonths = allMonths.filter(m => !quarters.some(q => +q === +m));

const FS = 17;
const TFS = 17.3;
const panels = [
  {top:52, bottom:283, domain:[0,11.8], ticks:countTicks, letterY:33, titleY:37, pad:11},
  {top:365, bottom:595, domain:[-4.55,4.55], ticks:meanTicks, letterY:347, titleY:348, pad:11},
  {top:677, bottom:908, domain:[0,11.67], ticks:stdTicks, letterY:657, titleY:661, pad:8}
];

const ys = panels.map((p, i) => {
  const y = d3.scaleLinear().domain(p.domain).range([p.bottom, p.top]);
  const H = p.bottom - p.top;
  const g = svg.append("g");
  g.append("g").attr("transform", `translate(0,${p.bottom})`)
    .call(d3.axisBottom(x).tickValues(minorMonths).tickSize(-H).tickFormat(""))
    .call(a => a.select(".domain").remove())
    .selectAll("line").attr("stroke", "#a0a0a0").attr("stroke-dasharray", "2,2.5").attr("stroke-width", 0.9);
  g.append("g").attr("transform", `translate(0,${p.bottom})`)
    .call(d3.axisBottom(x).tickValues(quarters).tickSize(-H).tickFormat(""))
    .call(a => a.select(".domain").remove())
    .selectAll("line").attr("stroke", "#222").attr("stroke-width", 1.1);
  g.append("g").attr("transform", `translate(${L},0)`)
    .call(d3.axisLeft(y).tickValues(p.ticks).tickSize(-(R-L)).tickFormat(""))
    .call(a => a.select(".domain").remove())
    .selectAll("line").attr("stroke", "#222").attr("stroke-width", 1.1);
  g.append("rect").attr("x", L).attr("y", p.top).attr("width", R-L).attr("height", H)
    .attr("fill", "none").attr("stroke", "#111").attr("stroke-width", 1.4);
  g.append("g").attr("transform", `translate(${L},0)`)
    .call(d3.axisLeft(y).tickValues(p.ticks).tickSize(0).tickPadding(7).tickFormat(d3.format("d")))
    .call(a => a.select(".domain").remove())
    .selectAll("text").attr("font-size", FS).attr("font-family", "Liberation Sans, Arial, sans-serif");
  g.append("g").attr("transform", `translate(0,${p.bottom})`)
    .call(d3.axisBottom(x).tickValues(quarters).tickSize(0).tickPadding(p.pad).tickFormat(d3.timeFormat("%Y-%m")))
    .call(a => a.select(".domain").remove())
    .selectAll("text").attr("font-size", FS).attr("font-family", "Liberation Sans, Arial, sans-serif");
  svg.append("text").attr("x", 0).attr("y", p.letterY).attr("font-size", 21).text(panelLetters[i]);
  svg.append("text").attr("x", (L+R)/2).attr("y", p.titleY).attr("text-anchor", "middle")
    .attr("font-size", TFS).text(titles[i]);
  const yl = i === 0 ? 23 : 26;
  svg.append("text").attr("transform", `translate(${yl},${(p.top+p.bottom)/2}) rotate(-90)`)
    .attr("text-anchor", "middle").attr("font-size", FS).text(yLabels[i]);
  return y;
});

const mult = svg.append("text").attr("x", L).attr("y", 45).attr("font-size", 15.5);
mult.append("tspan").text("x 10");
mult.append("tspan").attr("dy", -8).attr("font-size", 11).text("4");

function dots(data, y, r){
  svg.append("g").selectAll("circle").data(toPoints(data)).join("circle")
    .attr("cx", d => x(d.d)).attr("cy", d => y(d.v)).attr("r", r).attr("fill", "#ff0000");
}
function crosses(data, y, s){
  svg.append("g").selectAll("path").data(toPoints(data)).join("path")
    .attr("d", d => { const cx = x(d.d), cy = y(d.v);
      return `M${cx-s},${cy-s}L${cx+s},${cy+s}M${cx-s},${cy+s}L${cx+s},${cy-s}`; })
    .attr("stroke", "#3838ff").attr("stroke-opacity", 0.8).attr("stroke-width", 1.05).attr("fill", "none");
}
dots(countsPerDay, ys[0], 2.7);
crosses(meanOF, ys[1], 2);
dots(meanOA, ys[1], 2.0);
crosses(stdOF, ys[2], 2);
dots(stdOA, ys[2], 2.0);

const ax = x(parseDay(annotation.date)), ay = ys[2](annotation.value);
const bx = ax + 34, bw = 114, bh = 27;
svg.append("line").attr("x1", bx).attr("y1", ay).attr("x2", ax + 8).attr("y2", ay)
  .attr("stroke", "#000").attr("stroke-width", 1);
svg.append("path").attr("d", `M${ax+14},${ay-3}L${ax+8},${ay}L${ax+14},${ay+3}`)
  .attr("stroke", "#000").attr("fill", "none").attr("stroke-width", 1);
svg.append("rect").attr("x", bx).attr("y", ay - bh/2).attr("width", bw).attr("height", bh)
  .attr("fill", "#fff").attr("stroke", "#000").attr("stroke-width", 1.2);
svg.append("text").attr("x", bx + bw/2).attr("y", ay + 6.5).attr("text-anchor", "middle")
  .attr("font-size", 18).text(annotation.label);
</script>
</body></html>
